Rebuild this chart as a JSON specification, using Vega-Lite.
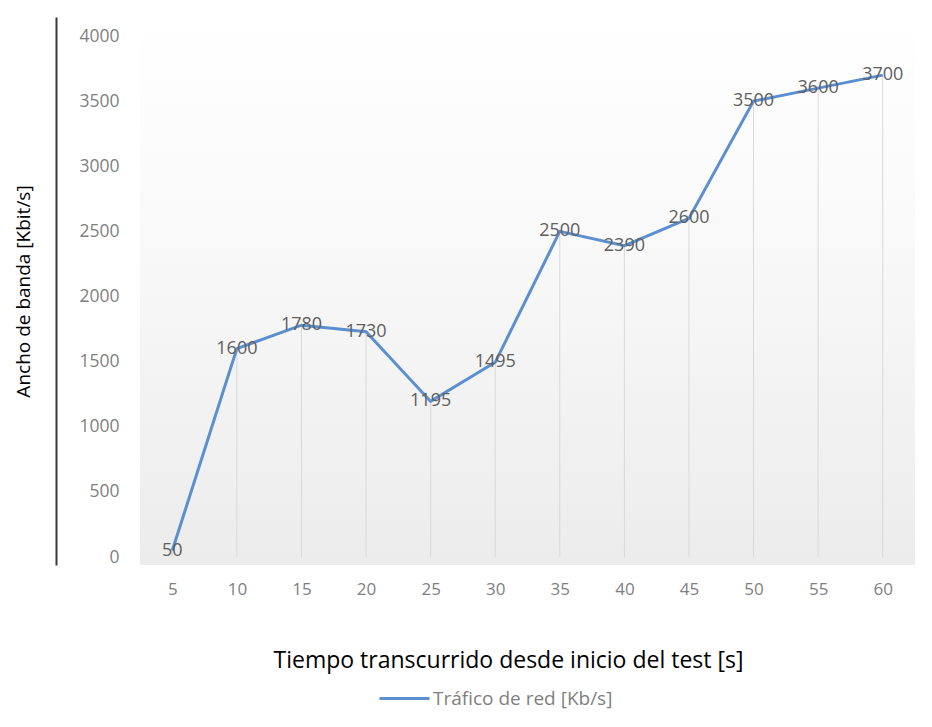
{
  "$schema": "https://vega.github.io/schema/vega-lite/v6.json",
  "width": 775,
  "height": 548,
  "autosize": "none",
  "padding": {"left": 140, "top": 17, "right": 17, "bottom": 162},
  "background": "#ffffff",
  "config": {
    "font": "Open Sans",
    "view": {
      "stroke": null,
      "fill": {
        "gradient": "linear",
        "x1": 0, "y1": 0, "x2": 0, "y2": 1,
        "stops": [
          {"offset": 0, "color": "#ffffff"},
          {"offset": 0.35, "color": "#fafafa"},
          {"offset": 1, "color": "#ececec"}
        ]
      }
    }
  },
  "data": {
    "values": [
      {"t": "5", "kbps": 50, "serie": "Tráfico de red [Kb/s]"},
      {"t": "10", "kbps": 1600, "serie": "Tráfico de red [Kb/s]"},
      {"t": "15", "kbps": 1780, "serie": "Tráfico de red [Kb/s]"},
      {"t": "20", "kbps": 1730, "serie": "Tráfico de red [Kb/s]"},
      {"t": "25", "kbps": 1195, "serie": "Tráfico de red [Kb/s]"},
      {"t": "30", "kbps": 1495, "serie": "Tráfico de red [Kb/s]"},
      {"t": "35", "kbps": 2500, "serie": "Tráfico de red [Kb/s]"},
      {"t": "40", "kbps": 2390, "serie": "Tráfico de red [Kb/s]"},
      {"t": "45", "kbps": 2600, "serie": "Tráfico de red [Kb/s]"},
      {"t": "50", "kbps": 3500, "serie": "Tráfico de red [Kb/s]"},
      {"t": "55", "kbps": 3600, "serie": "Tráfico de red [Kb/s]"},
      {"t": "60", "kbps": 3700, "serie": "Tráfico de red [Kb/s]"}
    ]
  },
  "encoding": {
    "x": {
      "field": "t",
      "type": "ordinal",
      "sort": null,
      "scale": {"type": "point", "padding": 0.5},
      "axis": {
        "title": "Tiempo transcurrido desde inicio del test [s]",
        "titleFontSize": 23,
        "titleFontWeight": "normal",
        "titleColor": "#000000",
        "titleX": 368,
        "titleY": 95,
        "titleAnchor": "middle",
        "titleAlign": "center",
        "titleBaseline": "middle",
        "labelAngle": 0,
        "labelFontSize": 17,
        "labelColor": "#7f7f7f",
        "labelPadding": 16,
        "ticks": false,
        "domain": false,
        "grid": false
      }
    }
  },
  "layer": [
    {
      "mark": {"type": "rule", "color": "#d9d9d9", "strokeWidth": 1},
      "encoding": {
        "y": {
          "field": "kbps",
          "type": "quantitative",
          "scale": {"domain": [-61, 4146], "nice": false, "zero": false},
          "axis": {
            "orient": "left",
            "offset": 84,
            "title": "Ancho de banda [Kbit/s]",
            "titleFontSize": 19,
            "titleFontWeight": "normal",
            "titleColor": "#000000",
            "titlePadding": 23,
            "labels": false,
            "ticks": false,
            "grid": false,
            "domain": true,
            "domainColor": "#3a3a3a",
            "domainWidth": 2
          }
        },
        "y2": {"datum": 0}
      }
    },
    {
      "mark": {"type": "line", "strokeWidth": 3},
      "encoding": {
        "y": {
          "field": "kbps",
          "type": "quantitative",
          "axis": {
            "orient": "left",
            "title": null,
            "format": "d",
            "values": [0, 500, 1000, 1500, 2000, 2500, 3000, 3500, 4000],
            "labelFontSize": 17.5,
            "labelColor": "#7f7f7f",
            "labelPadding": 21,
            "ticks": false,
            "grid": false,
            "domain": false
          }
        },
        "color": {
          "field": "serie",
          "type": "nominal",
          "scale": {"range": ["#5b8fd0"]},
          "legend": {
            "title": null,
            "orient": "none",
            "legendX": 238,
            "legendY": 655,
            "symbolType": "stroke",
            "symbolSize": 2500,
            "symbolStrokeWidth": 3,
            "labelFontSize": 19,
            "labelLimit": 400,
            "labelColor": "#7f7f7f",
            "labelOffset": 2
          }
        }
      }
    },
    {
      "mark": {"type": "text", "fontSize": 18, "color": "#5f5f5f", "align": "center", "baseline": "middle"},
      "encoding": {
        "y": {"field": "kbps", "type": "quantitative", "axis": null},
        "text": {"field": "kbps", "type": "quantitative", "format": "d"}
      }
    }
  ],
  "resolve": {"axis": {"y": "independent"}}
}
